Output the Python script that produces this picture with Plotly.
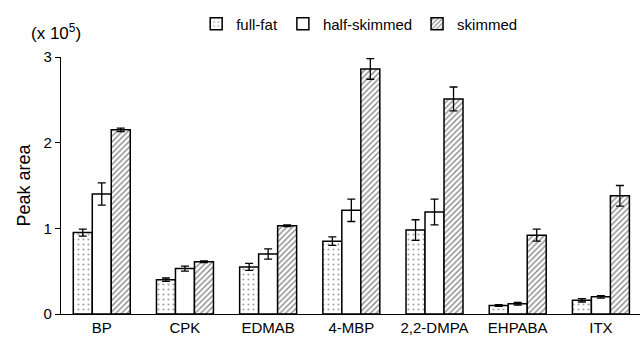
import plotly.graph_objects as go

categories = ["BP", "CPK", "EDMAB", "4-MBP", "2,2-DMPA", "EHPABA", "ITX"]
full_fat = [0.95, 0.40, 0.55, 0.85, 0.98, 0.10, 0.16]
full_fat_err = [0.04, 0.02, 0.04, 0.05, 0.12, 0.01, 0.02]
half_skimmed = [1.40, 0.53, 0.70, 1.21, 1.19, 0.12, 0.20]
half_skimmed_err = [0.13, 0.03, 0.06, 0.13, 0.15, 0.015, 0.015]
skimmed = [2.15, 0.61, 1.03, 2.86, 2.51, 0.92, 1.38]
skimmed_err = [0.02, 0.01, 0.01, 0.12, 0.14, 0.07, 0.12]
y_ticks = [0, 1, 2, 3]

font = "Liberation Sans, Arial, sans-serif"

def err(vals):
    return dict(type="data", array=vals, visible=True, color="black",
                thickness=1.3, width=4)

fig = go.Figure()
fig.add_trace(go.Bar(
    name="full-fat", x=categories, y=full_fat, error_y=err(full_fat_err),
    marker=dict(color="white", line=dict(color="black", width=1.5),
                pattern=dict(shape=".", fgcolor="#444444", size=5, solidity=0.15)),
))
fig.add_trace(go.Bar(
    name="half-skimmed", x=categories, y=half_skimmed, error_y=err(half_skimmed_err),
    marker=dict(color="white", line=dict(color="black", width=1.5)),
))
fig.add_trace(go.Bar(
    name="skimmed", x=categories, y=skimmed, error_y=err(skimmed_err),
    marker=dict(color="white", line=dict(color="black", width=1.5),
                pattern=dict(shape="/", fgcolor="#111111", size=4, solidity=0.35)),
))

fig.update_layout(
    width=641, height=338,
    margin=dict(l=61, r=1, t=57, b=24),
    paper_bgcolor="white", plot_bgcolor="white",
    barmode="group", bargap=0.315, bargroupgap=0,
    font=dict(family=font, size=14, color="black"),
    showlegend=True,
    legend=dict(orientation="h", x=0.2335, y=1.128, xanchor="left", yanchor="middle",
                font=dict(size=15), itemwidth=30, tracegroupgap=0,
                bgcolor="rgba(0,0,0,0)"),
    xaxis=dict(range=[-0.49, 6.47], showline=True, linecolor="black", linewidth=1.2,
               ticks="", showgrid=False, tickfont=dict(size=15), zeroline=False,
               automargin=False),
    yaxis=dict(range=[0, 3], tickvals=y_ticks, ticktext=[str(v) for v in y_ticks],
               showline=True, linecolor="black", linewidth=1.2, ticks="outside",
               ticklen=5, tickcolor="black", showgrid=False, zeroline=False,
               tickfont=dict(size=15), automargin=False,
               title=dict(text="Peak area", font=dict(size=18), standoff=8)),
    annotations=[dict(text="(x 10<sup>5</sup>)", xref="paper", yref="paper",
                      x=-0.0086, y=1.097, xanchor="center", yanchor="middle",
                      showarrow=False, font=dict(size=17))],
)

fig.write_html("out.html")
